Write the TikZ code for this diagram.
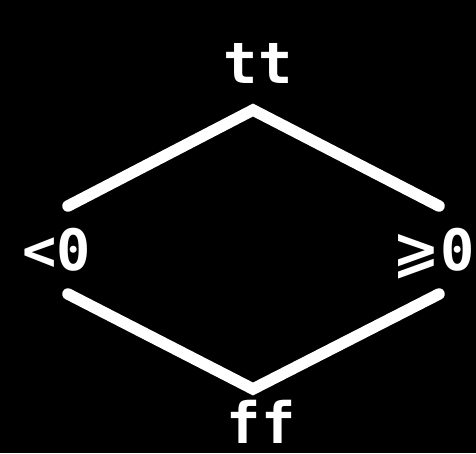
\documentclass[tikz,border=0pt]{standalone}
\usepackage{fontspec}
\newfontfamily\labfont{DejaVu Sans Mono}[BoldFont={DejaVu Sans Mono Bold}]
\newfontfamily\symfont{DejaVu Sans}[BoldFont={DejaVu Sans Bold}]
\begin{document}
\begin{tikzpicture}[x=1pt,y=-1pt,
  lab/.style={text=white,font=\labfont\bfseries\fontsize{57}{57}\selectfont,anchor=base,inner sep=0pt},
  edge/.style={draw=white,line width=11.5pt,line cap=round,line join=miter}]
\fill[black] (0,0) rectangle (476,453);
\useasboundingbox (0,0) rectangle (476,453);
\node[lab] (tt) at (258,83) {tt};
\node[lab] (lt) at (57,270) {<0};
\node[lab] (ge) at (434,270) {{\symfont\bfseries ⩾}0};
\node[lab] (ff) at (261,443) {ff};
\coordinate (top) at (253,110);
\coordinate (bot) at (253,389);
\coordinate (ltu) at (68,206);
\coordinate (ltd) at (68,294);
\coordinate (geu) at (439,206);
\coordinate (ged) at (439,294);
\draw[edge] (ltu) -- (top) -- (geu);
\draw[edge] (ltd) -- (bot) -- (ged);
\end{tikzpicture}
\end{document}
